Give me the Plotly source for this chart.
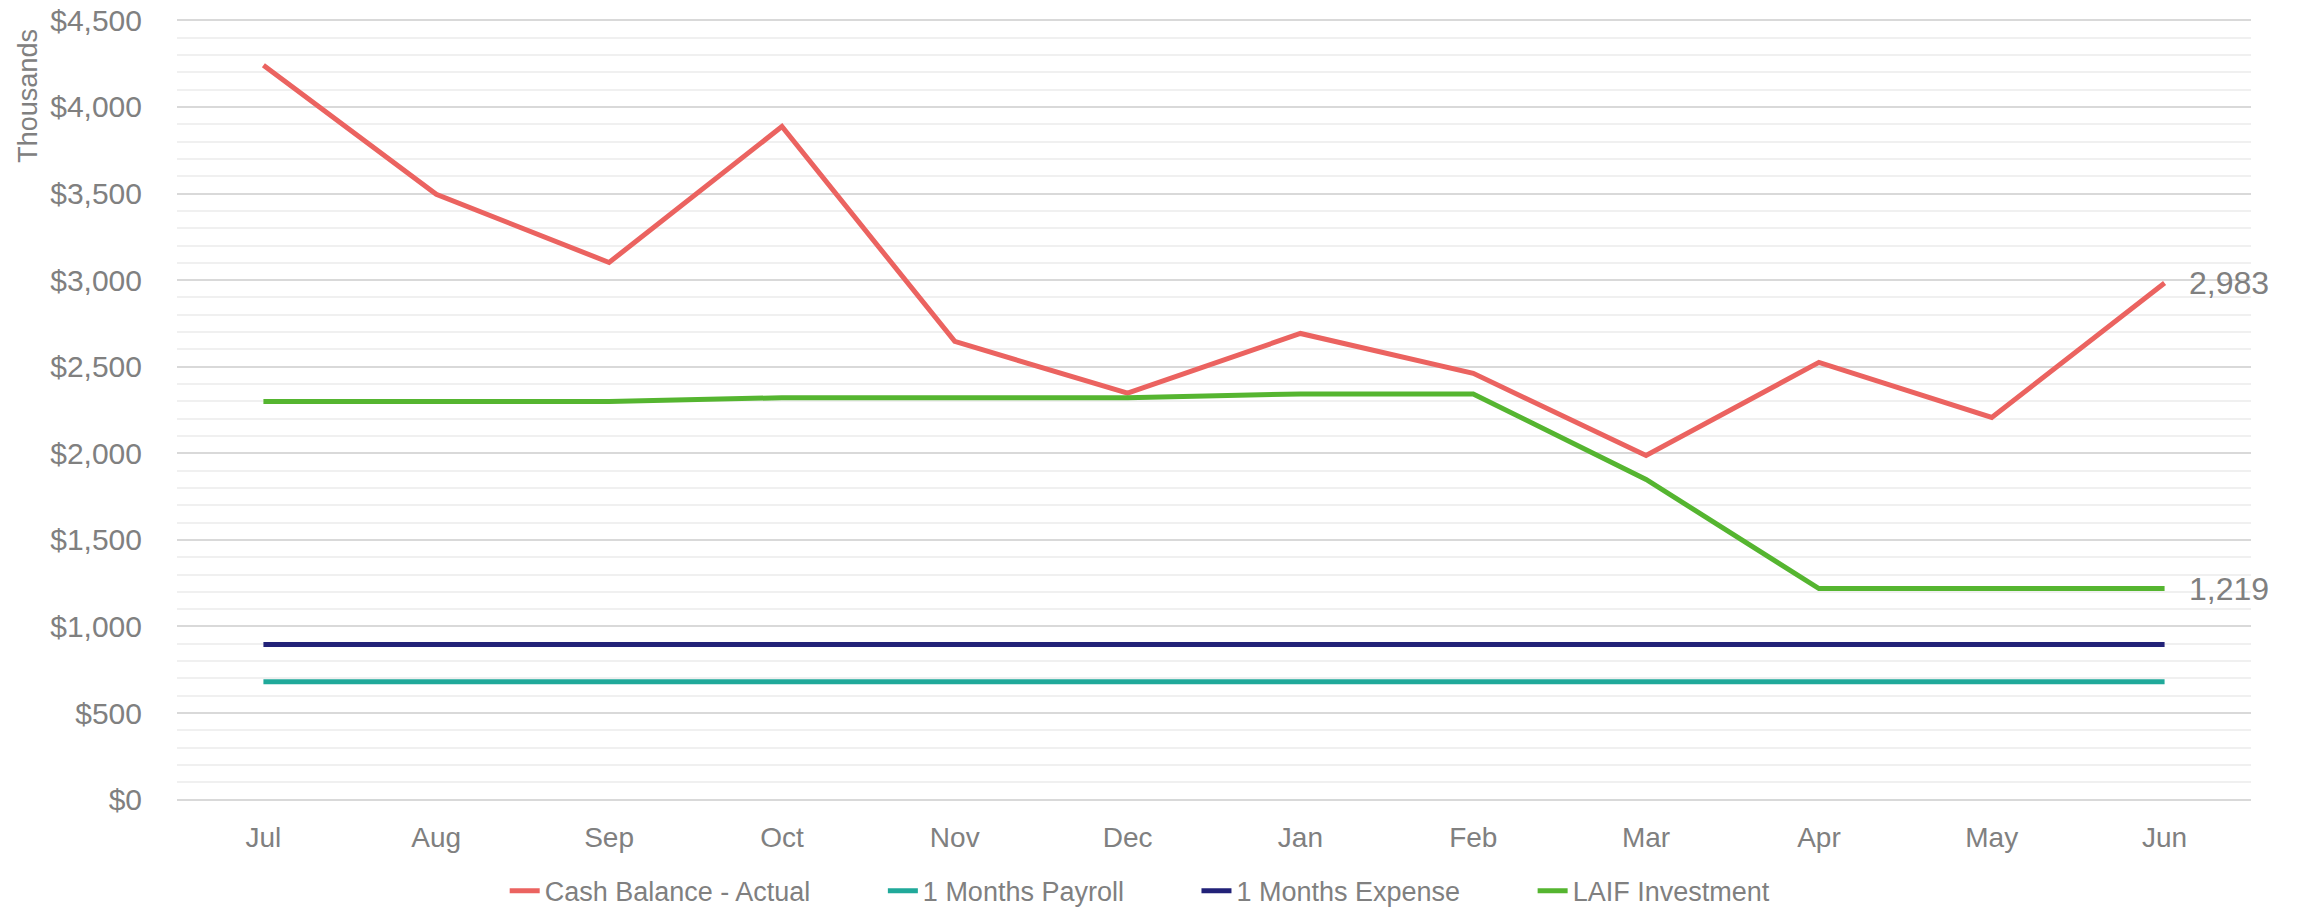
import plotly.graph_objects as go

months = ["Jul", "Aug", "Sep", "Oct", "Nov", "Dec", "Jan", "Feb", "Mar", "Apr", "May", "Jun"]
cash_balance = [4241, 3496, 3102, 3887, 2646, 2347, 2692, 2462, 1987, 2525, 2207, 2983]
payroll = [680] * 12
expense = [896] * 12
laif = [2299, 2299, 2299, 2321, 2321, 2321, 2343, 2343, 1849, 1219, 1219, 1219]

series = [
    ("Cash Balance - Actual", cash_balance, "#EB6360"),
    ("1 Months Payroll", payroll, "#20A99A"),
    ("1 Months Expense", expense, "#222278"),
    ("LAIF Investment", laif, "#55B530"),
]

FONT = "Liberation Sans"
GREY = "#808080"
PAD = "\u00a0" * 9

fig = go.Figure()
for i, (name, vals, color) in enumerate(series):
    fig.add_trace(go.Scatter(
        x=months, y=vals, name=name + (PAD if i < len(series) - 1 else ""), mode="lines",
        line=dict(color=color, width=5, shape="linear"),
    ))

for vals in (cash_balance, laif):
    fig.add_annotation(
        x=months[-1], y=vals[-1], text=f"{vals[-1]:,}",
        showarrow=False, xanchor="left", yanchor="middle", xshift=22,
        font=dict(family=FONT, size=32, color=GREY),
    )

fig.add_annotation(
    xref="paper", yref="paper", x=-0.072, y=1.0, text="Thousands",
    textangle=-90, showarrow=False, xanchor="center", yanchor="top",
    font=dict(family=FONT, size=27, color=GREY), yshift=-8,
)

# page body adds an 8px offset; the figure is sized so it ends at the window edge
fig.update_layout(
    width=2292, height=902,
    margin=dict(l=169, r=49, t=11, b=109, autoexpand=False),
    plot_bgcolor="white", paper_bgcolor="white",
    font=dict(family=FONT, color=GREY, size=27),
    legend=dict(orientation="h", x=0.158, xanchor="left", y=-0.084, yanchor="top",
                font=dict(family=FONT, size=27, color=GREY), traceorder="normal"),
    showlegend=True,
)
fig.update_xaxes(
    type="category", range=[-0.5, 11.5], showgrid=False, zeroline=False, showline=False,
    ticks="", tickfont=dict(family=FONT, size=28, color=GREY), ticklabelstandoff=17,
    automargin=False,
)
fig.update_yaxes(
    range=[-8, 4508], dtick=500, tickprefix="$", tickformat=",",
    showgrid=True, gridcolor="#D9D9D9", gridwidth=1.5,
    minor=dict(dtick=100, showgrid=True, gridcolor="#F0F0F0", gridwidth=1.5),
    zeroline=False, showline=False, ticks="",
    tickfont=dict(family=FONT, size=30, color=GREY), ticklabelstandoff=34,
    ticklabeloverflow="allow", automargin=False,
)

fig.write_html("out.html")
